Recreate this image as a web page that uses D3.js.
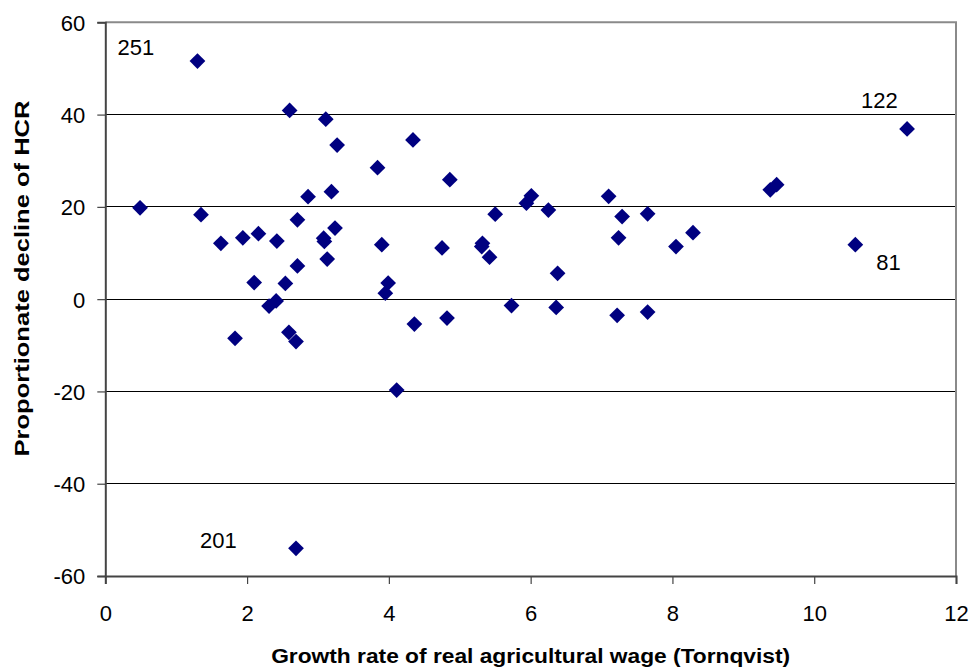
<!DOCTYPE html>
<html>
<head>
<meta charset="utf-8">
<script src="https://cdn.jsdelivr.net/npm/d3@7"></script>
<style>
  html, body { margin: 0; padding: 0; background: #fff; }
  svg { display: block; }
  text { font-family: "Liberation Sans", Arial, sans-serif; fill: #000; }
</style>
</head>
<body>
<svg id="chart" width="975" height="668"></svg>
<script>
// Growth rate of real agricultural wage (Tornqvist), per region
const wageGrowth = [
  0.49, 1.30, 1.35, 1.63, 1.83, 1.94, 2.10, 2.16, 2.31, 2.41,
  2.42, 2.54, 2.60, 2.59, 2.69, 2.71, 2.71, 2.69, 2.86, 3.11,
  3.08, 3.09, 3.13, 3.19, 3.27, 3.24, 3.84, 3.90, 3.95, 3.99,
  4.11, 4.34, 4.36, 4.75, 4.82, 4.86, 5.31, 5.32, 5.42, 5.50,
  5.73, 5.94, 6.01, 6.25, 6.38, 6.36, 7.10, 7.29, 7.24, 7.22,
  7.65, 7.65, 8.05, 8.29, 9.38, 9.47, 10.58, 11.31
];
// Proportionate decline of the head-count ratio, same order
const hcrDecline = [
  19.8, 51.6, 18.3, 12.1, -8.5, 13.3, 3.6, 14.2, -1.5, -0.4,
  12.6, 3.4, 40.9, -7.2, -9.2, 17.2, 7.2, -54.0, 22.2, 39.0,
  13.2, 12.5, 8.7, 23.3, 33.4, 15.4, 28.5, 11.8, 1.3, 3.5,
  -19.7, 34.5, -5.4, 11.1, -4.1, 25.9, 11.4, 12.1, 9.1, 18.4,
  -1.4, 20.8, 22.4, 19.3, 5.6, -1.8, 22.3, 17.9, 13.3, -3.5,
  18.5, -2.8, 11.4, 14.4, 23.7, 24.8, 11.8, 36.9
];
// Identifiers of the outlying regions and the point each one names
const outlierIds = ["251", "201", "122", "81"];
const outlierPoints = [1, 17, 57, 56];

const xTicks = [0, 2, 4, 6, 8, 10, 12];
const yTicks = [-60, -40, -20, 0, 20, 40, 60];

const xTitle = "Growth rate of real agricultural wage (Tornqvist)";
const yTitle = "Proportionate decline of HCR";

const svg = d3.select("#chart");
const plotLeft = 105.3, plotRight = 956, plotTop = 22.3, plotBottom = 576;

const x = d3.scaleLinear().domain([0, 12]).range([plotLeft, plotRight]);
const y = d3.scaleLinear().domain([-60, 60]).range([plotBottom, plotTop]);

// horizontal gridlines
svg.append("g")
  .selectAll("line")
  .data(yTicks.filter(v => v > -60 && v < 60))
  .join("line")
  .attr("x1", plotLeft).attr("x2", plotRight)
  .attr("y1", d => y(d)).attr("y2", d => y(d))
  .attr("stroke", "#000").attr("stroke-width", 1)
  .attr("shape-rendering", "crispEdges");

// plot area frame (top and right)
svg.append("path")
  .attr("d", `M${plotLeft},${plotTop}H${plotRight}V${plotBottom}`)
  .attr("fill", "none").attr("stroke", "#8a8a8a").attr("stroke-width", 2);

// y axis
const yAxis = d3.axisLeft(y).tickValues(yTicks).tickSize(8).tickPadding(12).tickFormat(d3.format("d"));
const gy = svg.append("g").attr("transform", `translate(${plotLeft},0)`).call(yAxis);
gy.select(".domain").attr("stroke", "#444").attr("stroke-width", 2);
gy.selectAll(".tick line").attr("stroke", "#444").attr("stroke-width", 1.2);
gy.selectAll(".tick text")
  .attr("font-size", 22).attr("font-family", "Liberation Sans, Arial, sans-serif")
  .attr("fill", "#000").attr("dy", "0.36em")
  .text(d => d < 0 ? "-" + Math.abs(d) : d);

// x axis
const xAxis = d3.axisBottom(x).tickValues(xTicks).tickSize(8).tickPadding(21).tickFormat(d3.format("d"));
const gx = svg.append("g").attr("transform", `translate(0,${plotBottom})`).call(xAxis);
gx.select(".domain").attr("stroke", "#444").attr("stroke-width", 2);
gx.selectAll(".tick line").attr("stroke", "#444").attr("stroke-width", 1.2);
gx.selectAll(".tick text")
  .attr("font-size", 22).attr("font-family", "Liberation Sans, Arial, sans-serif")
  .attr("fill", "#000");

// diamond markers
const diamond = d3.symbol().type(d3.symbolSquare).size(124);
svg.append("g")
  .selectAll("path")
  .data(wageGrowth.map((w, i) => [w, hcrDecline[i]]))
  .join("path")
  .attr("d", diamond)
  .attr("transform", d => `translate(${x(d[0])},${y(d[1])}) rotate(45)`)
  .attr("fill", "#000080");

// outlier identifiers placed beside their points
const labelOffsets = [[-80, -6], [-96, 0], [-46, -21], [21, 25]];
svg.append("g")
  .selectAll("text")
  .data(outlierIds)
  .join("text")
  .attr("x", (d, i) => x(wageGrowth[outlierPoints[i]]) + labelOffsets[i][0])
  .attr("y", (d, i) => y(hcrDecline[outlierPoints[i]]) + labelOffsets[i][1])
  .attr("font-size", 22)
  .text(d => d);

// axis titles
svg.append("text")
  .attr("x", (plotLeft + plotRight) / 2).attr("y", 663)
  .attr("text-anchor", "middle")
  .attr("font-size", 20).attr("font-weight", "bold")
  .attr("textLength", 519).attr("lengthAdjust", "spacingAndGlyphs")
  .text(xTitle);

svg.append("text")
  .attr("transform", `translate(29,278.5) rotate(-90)`)
  .attr("text-anchor", "middle")
  .attr("font-size", 21).attr("font-weight", "bold")
  .attr("textLength", 356).attr("lengthAdjust", "spacingAndGlyphs")
  .text(yTitle);
</script>
</body>
</html>
